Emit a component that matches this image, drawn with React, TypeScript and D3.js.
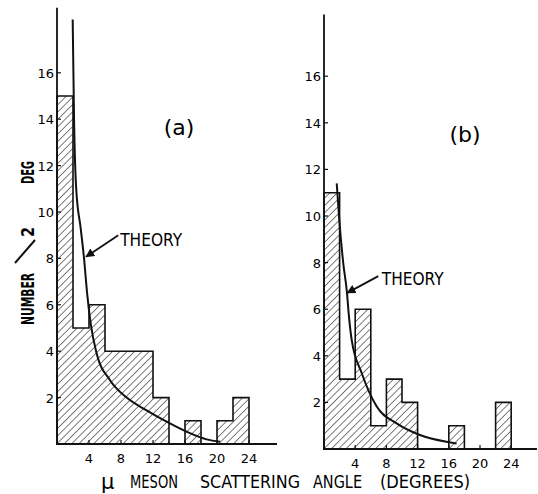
import * as d3 from "d3";

// histogram counts per 2-degree bin (0-2, 2-4, ... 22-24)
const binStarts = [0, 2, 4, 6, 8, 10, 12, 14, 16, 18, 20, 22];
const countsA = [15, 5, 6, 4, 4, 4, 2, 0, 1, 0, 1, 2];
const countsB = [11, 3, 6, 1, 3, 2, 0, 0, 1, 0, 0, 2];

// theory curves: [angle, number]
const theoryA: [number, number][] = [
  [1.96, 18.3], [2.13, 14.0], [2.4, 11.0], [2.96, 9.3], [3.38, 8.0], [3.75, 6.55],
  [4.25, 5.1], [4.96, 3.9], [6.63, 2.75], [8.71, 2.0], [11.2, 1.45], [13.7, 0.96],
  [16.2, 0.53], [18.7, 0.2], [20.4, 0.1],
];
const theoryB: [number, number][] = [
  [1.63, 11.4], [1.96, 9.83], [2.47, 7.97], [2.91, 6.82], [3.24, 5.54], [3.55, 4.68],
  [4.83, 3.26], [6.76, 1.82], [9.32, 1.1], [12.3, 0.6], [15.7, 0.31], [17.0, 0.24],
];

const yTicks = [2, 4, 6, 8, 10, 12, 14, 16];
const xTicks = [4, 8, 12, 16, 20, 24];

const FONT = "'DejaVu Sans', sans-serif";

type PanelProps = {
  counts: number[];
  theory: [number, number][];
  x: d3.ScaleLinear<number, number>;
  y: d3.ScaleLinear<number, number>;
  xMax: number;
  yMax: number;
  label: string;
  labelAt: [number, number];
  arrowFrom: [number, number];
  arrowTo: [number, number];
  theoryAt: [number, number];
};

function Panel({ counts, theory, x, y, xMax, yMax, label, labelAt, arrowFrom, arrowTo, theoryAt }: PanelProps) {
  // outline of histogram as a step path
  const pts: [number, number][] = [[0, 0]];
  binStarts.forEach((b, i) => {
    pts.push([b, counts[i]]);
    pts.push([b + 2, counts[i]]);
  });
  pts.push([24, 0]);
  const line = d3.line<[number, number]>().x((d) => x(d[0])).y((d) => y(d[1]));
  const curve = d3
    .line<[number, number]>()
    .x((d) => x(d[0]))
    .y((d) => y(d[1]))
    .curve(d3.curveMonotoneX);

  return (
    <g>
      {binStarts.map((b, i) =>
        counts[i] > 0 ? (
          <rect
            key={b}
            x={x(b)}
            y={y(counts[i])}
            width={x(b + 2) - x(b)}
            height={y(0) - y(counts[i])}
            fill="url(#hatch)"
          />
        ) : null
      )}
      <path d={line(pts) ?? ""} fill="none" stroke="#111" strokeWidth={1.6} />
      {/* axes */}
      <line x1={x(0)} x2={x(0)} y1={y(0)} y2={y(yMax)} stroke="#111" strokeWidth={1.8} />
      <line x1={x(0) - 1} x2={x(xMax)} y1={y(0)} y2={y(0)} stroke="#111" strokeWidth={1.8} />
      {yTicks.map((t) => (
        <g key={t}>
          <line x1={x(0)} x2={x(0) + 4} y1={y(t)} y2={y(t)} stroke="#111" strokeWidth={1.2} />
          <text x={x(0) - 3} y={y(t) + 5} textAnchor="end" fontSize={13} fontFamily={FONT}>
            {t}
          </text>
        </g>
      ))}
      {xTicks.map((t) => (
        <g key={t}>
          <line x1={x(t)} x2={x(t)} y1={y(0)} y2={y(0) - 4} stroke="#111" strokeWidth={1.2} />
          <text x={x(t)} y={y(0) + 19} textAnchor="middle" fontSize={13} fontFamily={FONT}>
            {t}
          </text>
        </g>
      ))}
      <path d={curve(theory) ?? ""} fill="none" stroke="#111" strokeWidth={2} />
      <line
        x1={x(arrowFrom[0])}
        y1={y(arrowFrom[1])}
        x2={x(arrowTo[0])}
        y2={y(arrowTo[1])}
        stroke="#111"
        strokeWidth={1.8}
        markerEnd="url(#arrow)"
      />
      <text
        x={x(theoryAt[0])}
        y={y(theoryAt[1])}
        fontSize={17}
        fontFamily={FONT}
        textLength={62}
        lengthAdjust="spacingAndGlyphs"
      >
        THEORY
      </text>
      <text x={labelAt[0]} y={labelAt[1]} textAnchor="middle" fontSize={22} fontFamily={FONT}>
        {label}
      </text>
    </g>
  );
}

export default function App() {
  const xA = d3.scaleLinear().domain([0, 24]).range([57, 249]);
  const yA = d3.scaleLinear().domain([0, 16]).range([444, 72.8]);
  const xB = d3.scaleLinear().domain([0, 24]).range([324, 511.2]);
  const yB = d3.scaleLinear().domain([0, 16]).range([449, 76.2]);

  const xWords: [string, number, number][] = [
    ["MESON", 130, 48],
    ["SCATTERING", 200, 100],
    ["ANGLE", 313, 49],
    ["(DEGREES)", 380, 90],
  ];
  // y label pieces: [text, bottom y, length]
  const yWords: [string, number, number][] = [
    ["NUMBER", 325, 52],
    ["2", 237, 10],
    ["DEG", 184, 23],
  ];

  return (
    <svg
      width={538}
      height={494}
      style={{ position: "absolute", left: 0, top: 0, background: "#fff" }}
    >
      <defs>
        <pattern id="hatch" patternUnits="userSpaceOnUse" width={5.2} height={5.2} patternTransform="rotate(45)">
          <line x1={0} y1={0} x2={0} y2={5.2} stroke="#111" strokeWidth={1.1} />
        </pattern>
        <marker id="arrow" viewBox="0 0 10 10" refX={9} refY={5} markerWidth={5} markerHeight={5} orient="auto">
          <path d="M0,0 L10,5 L0,10 z" fill="#111" />
        </marker>
      </defs>
      <Panel
        counts={countsA}
        theory={theoryA}
        x={xA}
        y={yA}
        xMax={27.5}
        yMax={18.8}
        label="(a)"
        labelAt={[179, 135]}
        arrowFrom={[7.66, 9.0]}
        arrowTo={[3.63, 8.07]}
        theoryAt={[7.9, 8.55]}
      />
      <Panel
        counts={countsB}
        theory={theoryB}
        x={xB}
        y={yB}
        xMax={27.3}
        yMax={18.65}
        label="(b)"
        labelAt={[465, 142]}
        arrowFrom={[6.96, 7.42]}
        arrowTo={[2.99, 6.7]}
        theoryAt={[7.4, 7.05]}
      />
      {yWords.map(([w, yb, len]) => (
        <text
          key={w}
          transform={`translate(34,${yb}) rotate(-90)`}
          fontSize={18}
          fontWeight="bold"
          fontFamily={FONT}
          textLength={len}
          lengthAdjust="spacingAndGlyphs"
        >
          {w}
        </text>
      ))}
      <line x1={15} y1={263} x2={35} y2={240} stroke="#111" strokeWidth={2} />
      <text x={101} y={489} fontSize={21} fontFamily={FONT}>
        μ
      </text>
      {xWords.map(([w, x0, len]) => (
        <text
          key={w}
          x={x0}
          y={488}
          fontSize={17}
          fontFamily={FONT}
          textLength={len}
          lengthAdjust="spacingAndGlyphs"
        >
          {w}
        </text>
      ))}
    </svg>
  );
}
